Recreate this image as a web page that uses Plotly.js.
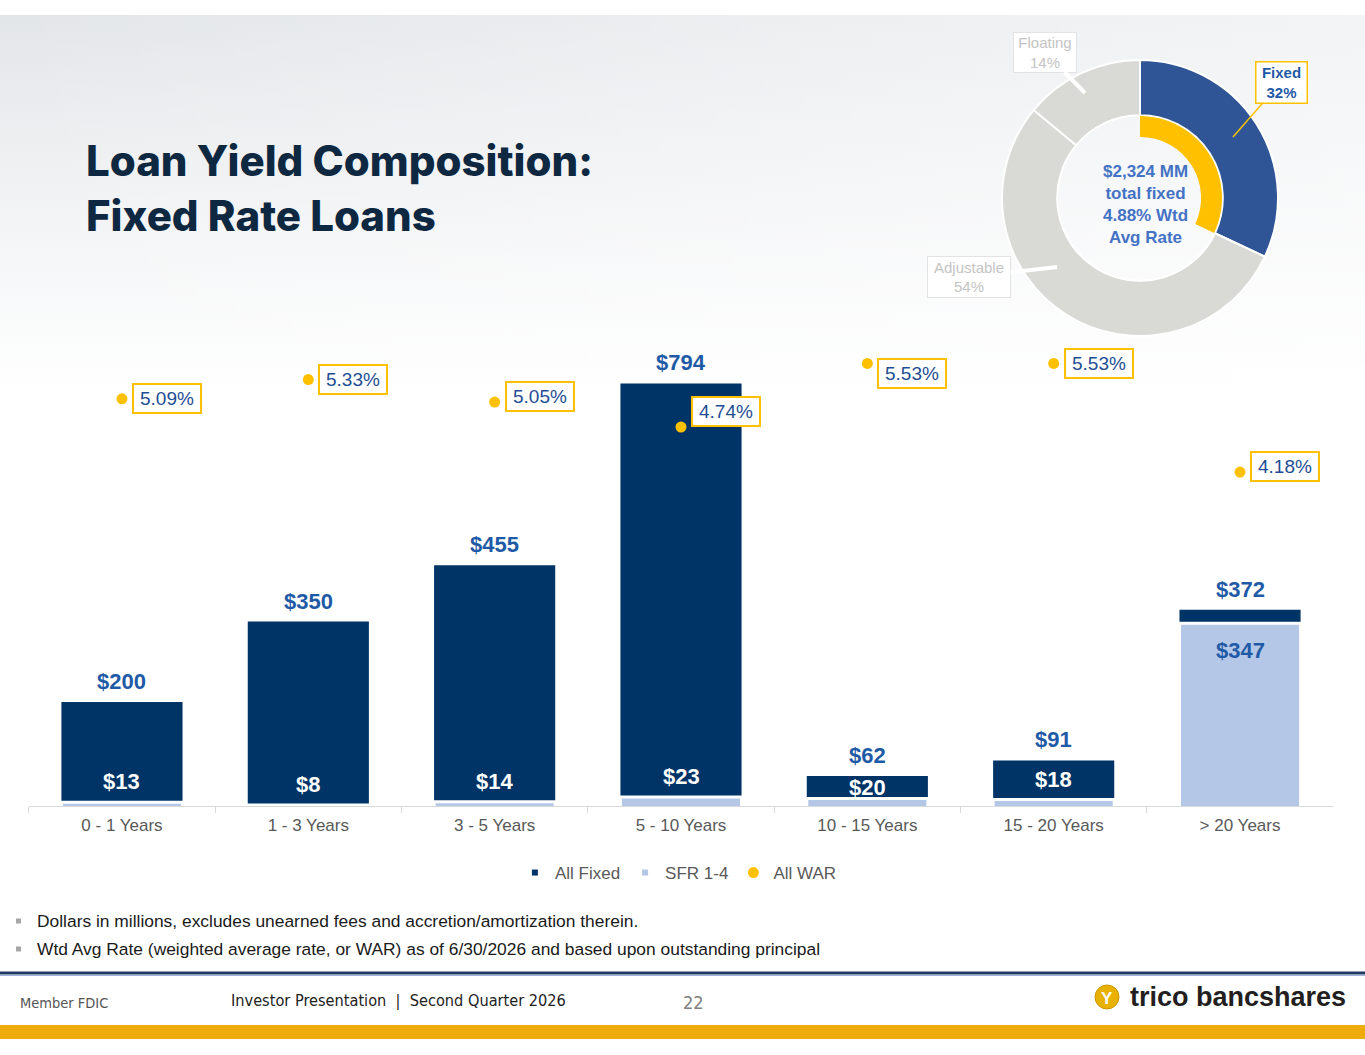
<!DOCTYPE html>
<html>
<head>
<meta charset="utf-8">
<script src="https://cdn.plot.ly/plotly-3.0.1.min.js"></script>
<style>
  html, body { margin: 0; padding: 0; background: #ffffff; }
  #wrap {
    position: relative; width: 1365px; height: 1055px; overflow: hidden;
    background:
      linear-gradient(to right, rgba(255,255,255,0) 0%, rgba(255,255,255,0.35) 60%, rgba(255,255,255,0.55) 100%) 0 15px / 100% 380px no-repeat,
      linear-gradient(to bottom, #E3E6E9 0px, #ECEEF0 120px, #F6F7F8 250px, #FFFFFF 380px) 0 15px / 100% 380px no-repeat,
      #ffffff;
  }
  #chart { position: absolute; left: 0; top: 0; width: 1365px; height: 1055px; }
</style>
</head>
<body>
<div id="wrap"><div id="chart"></div></div>
<script>
// ---------------- data ----------------
const categories = ['0 - 1 Years', '1 - 3 Years', '3 - 5 Years', '5 - 10 Years', '10 - 15 Years', '15 - 20 Years', '> 20 Years'];
const allFixed = [200, 350, 455, 794, 62, 91, 372];
const sfr14 = [13, 8, 14, 23, 20, 18, 347];
const allWAR = [5.09, 5.33, 5.05, 4.74, 5.53, 5.53, 4.18];
const mixLabels = ['Fixed', 'Adjustable', 'Floating'];
const mixShares = [32, 54, 14];
const totalFixedMM = 2324;
const totalFixedWAR = 4.88;
const seriesNames = ['All Fixed', 'SFR 1-4', 'All WAR'];
const titleLines = ['Loan Yield Composition:', 'Fixed Rate Loans'];
const notes = [
  'Dollars in millions, excludes unearned fees and accretion/amortization therein.',
  'Wtd Avg Rate (weighted average rate, or WAR) as of 6/30/2026 and based upon outstanding principal'
];
const footerText = 'Investor Presentation  |  Second Quarter 2026';
const pageNumber = '22';

// ---------------- style / layout constants ----------------
const W = 1365, H = 1055;
const PX = x => x / W;            // pixel -> paper x
const PY = y => 1 - y / H;        // pixel -> paper y
const NAVY = '#003366', LIGHT = '#B4C7E7', GOLD = '#FFC000';
const LABEL_BLUE = '#1F5AA6', WAR_TEXT = '#1F4E94';
const FONT = 'Liberation Sans, Arial, sans-serif';
const NARROW = 'Liberation Sans Narrow, Arial Narrow, DejaVu Sans Condensed, sans-serif';
const warLabelYShift = [0, 0, 6, 15, -10, 0, 6];

const fmtMoney = v => '$' + v.toLocaleString('en-US');

// ---------------- traces ----------------
const traces = [];
traces.push({
  type: 'bar', name: seriesNames[0], x: categories, y: allFixed,
  marker: { color: NAVY }, width: 0.65, showlegend: false, hoverinfo: 'x+y'
});
traces.push({
  type: 'bar', name: seriesNames[1], x: categories, y: sfr14,
  marker: { color: LIGHT, line: { color: '#FFFFFF', width: 3 } }, width: 0.65,
  showlegend: false, hoverinfo: 'x+y'
});
// legend keys for bars (small squares like the original)
traces.push({
  type: 'scatter', mode: 'markers', name: seriesNames[0], x: [null], y: [null],
  marker: { symbol: 'square', size: 6, color: NAVY }, legendrank: 1, hoverinfo: 'skip'
});
traces.push({
  type: 'scatter', mode: 'markers', name: seriesNames[1], x: [null], y: [null],
  marker: { symbol: 'square', size: 6, color: LIGHT }, legendrank: 2, hoverinfo: 'skip'
});
traces.push({
  type: 'scatter', mode: 'markers', name: seriesNames[2], x: categories, y: allWAR, yaxis: 'y2',
  marker: { size: 11, color: GOLD }, legendrank: 3, hoverinfo: 'x+y'
});
// donut: loan mix
traces.push({
  type: 'pie', labels: mixLabels, values: mixShares, sort: false, direction: 'clockwise', rotation: 0,
  hole: 0.60, textinfo: 'none', showlegend: false, hoverinfo: 'label+percent',
  marker: { colors: ['#2F5597', '#D9D9D6', '#D9D9D6'], line: { color: '#FFFFFF', width: 2 } },
  domain: { x: [PX(1002), PX(1278)], y: [PY(336), PY(60)] }
});
// inner gold ring highlighting the fixed share
traces.push({
  type: 'pie', labels: [mixLabels[0], 'other'], values: [mixShares[0], 100 - mixShares[0]],
  sort: false, direction: 'clockwise', rotation: 0, hole: 0.745, textinfo: 'none',
  showlegend: false, hoverinfo: 'skip',
  marker: { colors: [GOLD, 'rgba(0,0,0,0)'], line: { width: 0 } },
  domain: { x: [PX(1058), PX(1222)], y: [PY(280), PY(116)] }
});

// ---------------- annotations ----------------
const ann = [];
categories.forEach((c, i) => {
  ann.push({ x: c, y: allFixed[i], xref: 'x', yref: 'y', yanchor: 'bottom', yshift: 6,
    text: fmtMoney(allFixed[i]), showarrow: false,
    font: { family: FONT, size: 22, color: LABEL_BLUE, weight: 'bold' } });
  const total = allFixed[i], s = sfr14[i];
  let a;
  if (s > total / 2) {
    a = { y: s, yanchor: 'top', yshift: -13, color: LABEL_BLUE };
  } else if (total - s < 60) {
    a = { y: (total + s) / 2, yanchor: 'middle', yshift: 0, color: '#FFFFFF' };
  } else {
    a = { y: s, yanchor: 'bottom', yshift: 6, color: '#FFFFFF' };
  }
  ann.push({ x: c, y: a.y, xref: 'x', yref: 'y', yanchor: a.yanchor, yshift: a.yshift,
    text: fmtMoney(s), showarrow: false,
    font: { family: FONT, size: 22, color: a.color, weight: 'bold' } });
  ann.push({ x: c, y: allWAR[i], xref: 'x', yref: 'y2', xanchor: 'left', xshift: 10,
    yanchor: 'middle', yshift: warLabelYShift[i], text: allWAR[i].toFixed(2) + '%', showarrow: false,
    width: 60, height: 21, borderpad: 3, bgcolor: '#FFFFFF', bordercolor: GOLD, borderwidth: 2,
    font: { family: FONT, size: 19, color: WAR_TEXT } });
});
// donut center
ann.push({ x: PX(1145), y: PY(204), xref: 'paper', yref: 'paper', xanchor: 'center', yanchor: 'middle',
  showarrow: false,
  text: fmtMoney(totalFixedMM) + ' MM<br>total fixed<br>' + totalFixedWAR.toFixed(2) + '% Wtd<br>Avg Rate',
  font: { family: FONT, size: 17, color: '#4472C4', weight: 'bold' } });
// donut callouts
ann.push({ x: PX(1233), y: PY(137), xref: 'paper', yref: 'paper', showarrow: true, arrowhead: 0,
  ax: 48, ay: -55, arrowcolor: GOLD, arrowwidth: 1.5,
  text: mixLabels[0] + '<br>' + mixShares[0] + '%', width: 44, height: 34, borderpad: 3,
  bgcolor: '#FFFFFF', bordercolor: GOLD, borderwidth: 1.5,
  font: { family: FONT, size: 15, color: LABEL_BLUE, weight: 'bold' } });
ann.push({ x: PX(1085), y: PY(93), xref: 'paper', yref: 'paper', showarrow: true, arrowhead: 0,
  ax: -40, ay: -41, arrowcolor: '#FFFFFF', arrowwidth: 4,
  text: mixLabels[2] + '<br>' + mixShares[2] + '%', width: 56, height: 33, borderpad: 3,
  bgcolor: '#FFFFFF', bordercolor: '#E3E3E3', borderwidth: 1,
  font: { family: FONT, size: 15, color: '#C4C4C4' } });
ann.push({ x: PX(1057), y: PY(267), xref: 'paper', yref: 'paper', showarrow: true, arrowhead: 0,
  ax: -88, ay: 10, arrowcolor: '#FFFFFF', arrowwidth: 4,
  text: mixLabels[1] + '<br>' + mixShares[1] + '%', width: 76, height: 34, borderpad: 3,
  bgcolor: '#FFFFFF', bordercolor: '#E3E3E3', borderwidth: 1,
  font: { family: FONT, size: 15, color: '#C4C4C4' } });
// notes
notes.forEach((t, i) => {
  ann.push({ x: PX(35), y: PY(921 + i * 28), xref: 'paper', yref: 'paper', xanchor: 'left', yanchor: 'middle',
    showarrow: false, text: t, font: { family: FONT, size: 17.4, color: '#1A1A1A' } });
});
// footer
ann.push({ x: PX(18), y: PY(1003), xref: 'paper', yref: 'paper', xanchor: 'left', yanchor: 'middle',
  showarrow: false, text: 'Member FDIC', font: { family: NARROW, size: 14.5, color: '#555555' } });
ann.push({ x: PX(229), y: PY(1000), xref: 'paper', yref: 'paper', xanchor: 'left', yanchor: 'middle',
  showarrow: false, text: footerText, font: { family: NARROW, size: 16.2, color: '#222222' } });
ann.push({ x: PX(693), y: PY(1002), xref: 'paper', yref: 'paper', xanchor: 'center', yanchor: 'middle',
  showarrow: false, text: pageNumber, font: { family: NARROW, size: 18, color: '#808080' } });
ann.push({ x: PX(1107), y: PY(998), xref: 'paper', yref: 'paper', xanchor: 'center', yanchor: 'middle',
  showarrow: false, text: 'Y', font: { family: FONT, size: 17, color: '#FFFFFF', weight: 'bold' } });
ann.push({ x: PX(1128), y: PY(997), xref: 'paper', yref: 'paper', xanchor: 'left', yanchor: 'middle',
  showarrow: false, text: 'trico bancshares', font: { family: FONT, size: 27, color: '#231F20', weight: 'bold' } });

// ---------------- shapes ----------------
const shapes = [
  { type: 'line', xref: 'paper', yref: 'paper', x0: 0, x1: 1, y0: PY(973), y1: PY(973), line: { color: '#1F3864', width: 3 } },
  { type: 'line', xref: 'paper', yref: 'paper', x0: 0, x1: 1, y0: PY(975.5), y1: PY(975.5), line: { color: '#9DB3DA', width: 1 } },
  { type: 'rect', xref: 'paper', yref: 'paper', x0: 0, x1: 1, y0: PY(1039), y1: PY(1025), fillcolor: '#EFAA0C', line: { width: 0 } },
  { type: 'circle', xref: 'paper', yref: 'paper', x0: PX(1095), x1: PX(1119), y0: PY(1009), y1: PY(985), fillcolor: '#E8B100', line: { color: '#C99700', width: 1 } },
  { type: 'rect', xref: 'paper', yref: 'paper', x0: PX(16), x1: PX(21), y0: PY(923.5), y1: PY(918.5), fillcolor: '#A6A6A6', line: { width: 0 } },
  { type: 'rect', xref: 'paper', yref: 'paper', x0: PX(16), x1: PX(21), y0: PY(951.5), y1: PY(946.5), fillcolor: '#A6A6A6', line: { width: 0 } }
];

const layout = {
  width: W, height: H,
  margin: { l: 0, r: 0, t: 0, b: 0, pad: 0 },
  paper_bgcolor: 'rgba(0,0,0,0)', plot_bgcolor: 'rgba(0,0,0,0)',
  font: { family: FONT, color: '#595959' },
  title: {
    text: titleLines.join('<br>'), x: PX(86), xref: 'paper', xanchor: 'left',
    y: PY(176), yref: 'paper', yanchor: 'middle',
    font: { family: 'Inter, Roboto, sans-serif', size: 42, color: '#0E2841', weight: 800 }
  },
  barmode: 'overlay',
  xaxis: {
    domain: [PX(28.8), PX(1333.2)], type: 'category', showgrid: false, zeroline: false,
    showline: true, linecolor: '#D9D9D9', linewidth: 1,
    ticks: 'outside', tickson: 'boundaries', ticklen: 6, tickcolor: '#D9D9D9',
    tickfont: { family: FONT, size: 17, color: '#595959' }, ticklabelstandoff: 4, fixedrange: true
  },
  yaxis: {
    domain: [PY(806), PY(340)], range: [6, 875.1], visible: false, fixedrange: true
  },
  yaxis2: {
    overlaying: 'y', range: [0.026, 5.822], visible: false, fixedrange: true
  },
  showlegend: true,
  legend: {
    orientation: 'h', x: 0.497, xanchor: 'center', y: PY(873), yanchor: 'middle',
    font: { family: FONT, size: 17, color: '#595959' }, bgcolor: 'rgba(0,0,0,0)',
    traceorder: 'normal', itemclick: false, itemdoubleclick: false
  },
  annotations: ann,
  shapes: shapes
};

Plotly.newPlot('chart', traces, layout, { displayModeBar: false, responsive: false });
</script>
</body>
</html>
